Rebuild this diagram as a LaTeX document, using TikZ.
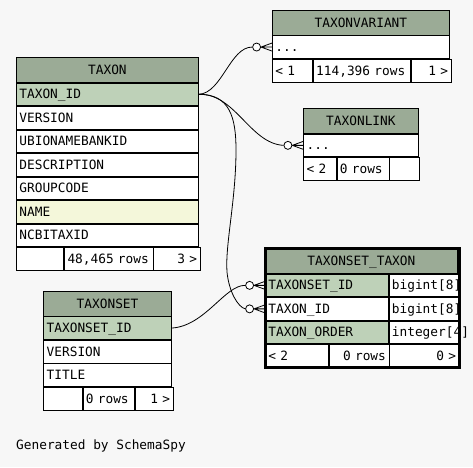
\documentclass[tikz,border=0pt]{standalone}
\usepackage{fontspec}
\setmonofont{DejaVu Sans Mono}
\usetikzlibrary{positioning,calc}

\definecolor{pagebg}{HTML}{F7F7F7}
\definecolor{headgreen}{HTML}{9BAB96}
\definecolor{keygreen}{HTML}{BED1B8}
\definecolor{idxyellow}{HTML}{F4F7DA}

\tikzset{
  cell/.style={draw=black,line width=0.8pt,anchor=north west,inner xsep=3pt,inner ysep=0pt,minimum height=22.7pt,text height=9.2pt,text depth=0pt,font=\fontsize{12.8pt}{15pt}\selectfont\ttfamily},
  tblhead/.style={cell,fill=headgreen,minimum height=24.5pt,text width=#1,align=center},
  keyrow/.style={cell,fill=keygreen,text width=#1,align=left},
  plainrow/.style={cell,fill=white,text width=#1,align=left},
  idxrow/.style={cell,fill=idxyellow,text width=#1,align=left},
  footl/.style={cell,fill=white,text width=#1,align=left},
  footr/.style={cell,fill=white,text width=#1,align=right},
  ring/.style={circle,draw=black,fill=white,line width=0.8pt,inner sep=0pt,minimum size=8pt},
  link/.style={draw=black,line width=0.8pt}
}

\begin{document}
\begin{tikzpicture}[x=1pt,y=-1pt]
\fill[pagebg] (0,0) rectangle (473,467);

% TAXONVARIANT
\node[tblhead=171pt] (tv_hdr) at (272,10) {TAXONVARIANT};
\node[plainrow=171pt,below=0pt of tv_hdr] (tv_dots) {...};
\node[footl=34pt] (tv_f1) at (tv_dots.south west) {< 1};
\node[footl=91pt,right=0pt of tv_f1] (tv_f2) {\mbox{114,396 rows}};
\node[footr=34pt,right=0pt of tv_f2] (tv_f3) {1 >};

% TAXON
\node[tblhead=176pt] (taxon_hdr) at (16,57.3) {TAXON};
\node[keyrow=176pt,below=0pt of taxon_hdr] (taxon_id) {TAXON\_ID};
\node[plainrow=176pt,below=0pt of taxon_id] (taxon_version) {VERSION};
\node[plainrow=176pt,below=0pt of taxon_version] (taxon_ubio) {UBIONAMEBANKID};
\node[plainrow=176pt,below=0pt of taxon_ubio] (taxon_desc) {DESCRIPTION};
\node[plainrow=176pt,below=0pt of taxon_desc] (taxon_group) {GROUPCODE};
\node[idxrow=176pt,below=0pt of taxon_group] (taxon_name) {NAME};
\node[plainrow=176pt,below=0pt of taxon_name] (taxon_ncbi) {NCBITAXID};
\node[footl=41.3pt] (taxon_f1) at (taxon_ncbi.south west) {};
\node[footl=82.4pt,right=0pt of taxon_f1] (taxon_f2) {\mbox{48,465 rows}};
\node[footr=40.3pt,right=0pt of taxon_f2] (taxon_f3) {3 >};

% TAXONLINK
\node[tblhead=108.4pt] (tl_hdr) at (303.3,108.3) {TAXONLINK};
\node[plainrow=108.4pt,below=0pt of tl_hdr] (tl_dots) {...};
\node[footl=26.4pt] (tl_f1) at (tl_dots.south west) {< 2};
\node[footl=46pt,right=0pt of tl_f1] (tl_f2) {\mbox{0 rows}};
\node[footl=24pt,right=0pt of tl_f2] (tl_f3) {};

% TAXONSET_TAXON
\node[tblhead=186pt] (tst_hdr) at (265,248.3) {TAXONSET\_TAXON};
\node[keyrow=116.7pt] (tst_setid) at (tst_hdr.south west) {TAXONSET\_ID};
\node[plainrow=63.3pt,right=0pt of tst_setid] (tst_setid_t) {\mbox{bigint[8]}};
\node[plainrow=116.7pt] (tst_taxonid) at (tst_setid.south west) {TAXON\_ID};
\node[plainrow=63.3pt,right=0pt of tst_taxonid] (tst_taxonid_t) {\mbox{bigint[8]}};
\node[keyrow=116.7pt] (tst_order) at (tst_taxonid.south west) {TAXON\_ORDER};
\node[plainrow=63.3pt,right=0pt of tst_order] (tst_order_t) {\mbox{integer[4]}};
\node[footl=56.7pt] (tst_f1) at (tst_order.south west) {< 2};
\node[footr=54pt,right=0pt of tst_f1] (tst_f2) {\mbox{0 rows}};
\node[footr=63.3pt,right=0pt of tst_f2] (tst_f3) {0 >};
\draw[line width=3pt] (tst_hdr.north west) rectangle (tst_f3.south east);

% TAXONSET
\node[tblhead=121.7pt] (ts_hdr) at (43.3,291) {TAXONSET};
\node[keyrow=121.7pt,below=0pt of ts_hdr] (ts_setid) {TAXONSET\_ID};
\node[plainrow=121.7pt,below=0pt of ts_setid] (ts_version) {VERSION};
\node[plainrow=121.7pt,below=0pt of ts_version] (ts_title) {TITLE};
\node[footl=32.4pt] (ts_f1) at (ts_title.south west) {};
\node[footl=45.6pt,right=0pt of ts_f1] (ts_f2) {\mbox{0 rows}};
\node[footr=31.7pt,right=0pt of ts_f2] (ts_f3) {1 >};

% relationships
\node[ring,left=11pt of tv_dots] (tv_o) {};
\node[ring,left=11pt of tl_dots] (tl_o) {};
\node[ring,left=11pt of tst_setid] (tst_o1) {};
\node[ring,left=11pt of tst_taxonid] (tst_o2) {};

\draw[link] (taxon_id.east) .. controls (222,93) and (230,47) .. (tv_o.west);
\draw[link] (taxon_id.east) .. controls (235,93) and (250,143.6) .. (tl_o.west);
\draw[link] (taxon_id.east) .. controls (230,94) and (236,118) .. (236,150) .. controls (236,200) and (225,245) .. (227,272) .. controls (229,292) and (238,307) .. (tst_o2.west);
\draw[link] (ts_setid.east) .. controls (205,326) and (225,285) .. (tst_o1.west);

\draw[link] (tv_o.east) -- (tv_dots.west) (tv_o.east) -- ($(tv_dots.west)+(0,-4)$) (tv_o.east) -- ($(tv_dots.west)+(0,4)$);
\draw[link] (tl_o.east) -- (tl_dots.west) (tl_o.east) -- ($(tl_dots.west)+(0,-4)$) (tl_o.east) -- ($(tl_dots.west)+(0,4)$);
\draw[link] (tst_o1.east) -- (tst_setid.west) (tst_o1.east) -- ($(tst_setid.west)+(0,-4)$) (tst_o1.east) -- ($(tst_setid.west)+(0,4)$);
\draw[link] (tst_o2.east) -- (tst_taxonid.west) (tst_o2.east) -- ($(tst_taxonid.west)+(0,-4)$) (tst_o2.east) -- ($(tst_taxonid.west)+(0,4)$);

\node[anchor=base west,inner sep=0pt,font=\fontsize{12.8pt}{15pt}\selectfont\ttfamily] (credit) at (16,449) {Generated by SchemaSpy};
\end{tikzpicture}
\end{document}
